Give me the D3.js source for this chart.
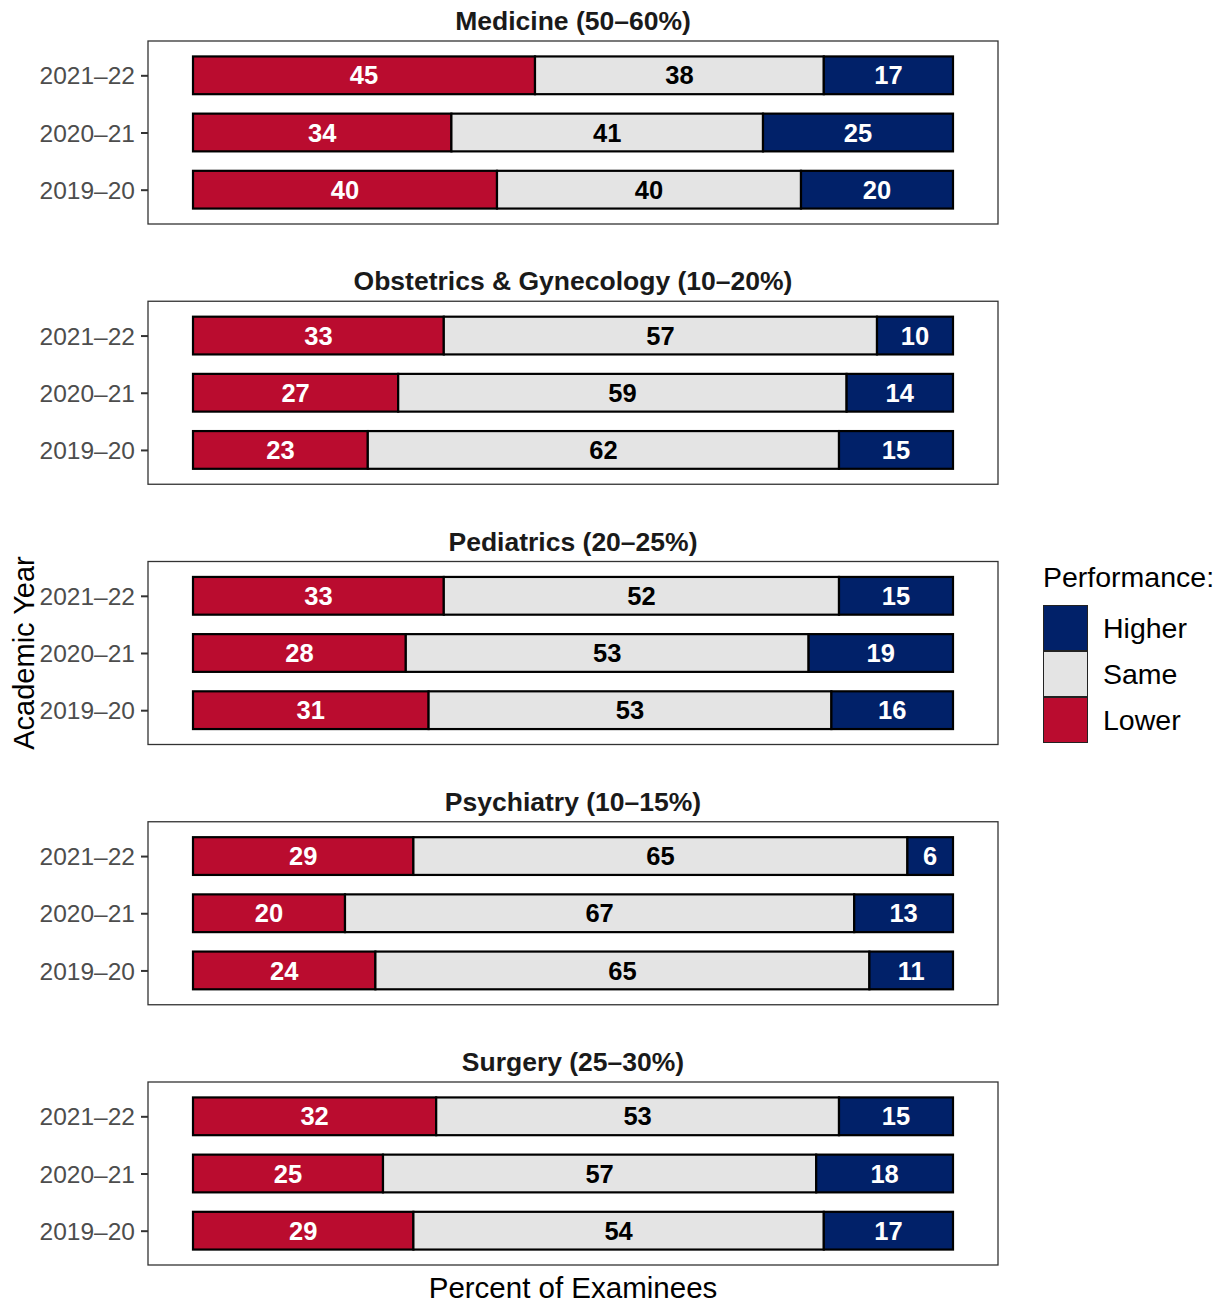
<!DOCTYPE html>
<html>
<head>
<meta charset="utf-8">
<script src="https://cdn.jsdelivr.net/npm/d3@7"></script>
<style>
  html, body { margin: 0; padding: 0; background: #ffffff; }
  svg { display: block; font-family: "Liberation Sans", Arial, sans-serif; }
</style>
</head>
<body>
<svg id="chart" width="1225" height="1304"></svg>
<script>
// ---- data ----
const panels = ["Medicine (50\u201360%)", "Obstetrics & Gynecology (10\u201320%)", "Pediatrics (20\u201325%)", "Psychiatry (10\u201315%)", "Surgery (25\u201330%)"];
const years = ["2021\u201322", "2020\u201321", "2019\u201320"];
const categories = ["Lower", "Same", "Higher"];
// values per panel, per year (same order as years)
const lowerValues = [
  [45, 34, 40],
  [33, 27, 23],
  [33, 28, 31],
  [29, 20, 24],
  [32, 25, 29]
];
const sameValues = [
  [38, 41, 40],
  [57, 59, 62],
  [52, 53, 53],
  [65, 67, 65],
  [53, 57, 54]
];
const higherValues = [
  [17, 25, 20],
  [10, 14, 15],
  [15, 19, 16],
  [6, 13, 11],
  [15, 18, 17]
];
const legendOrder = ["Higher", "Same", "Lower"];

// ---- styles ----
const colors = { Lower: "#BA0C2F", Same: "#E4E4E4", Higher: "#012169" };
const textColors = { Lower: "#ffffff", Same: "#000000", Higher: "#ffffff" };

const svg = d3.select("#chart");

const panelLeft = 148, panelRight = 998;
const panelTop0 = 41, panelStep = 260.25, panelH = 183;

const x = d3.scaleLinear().domain([0, 100]).range([193, 953]);

const valueSets = { Lower: lowerValues, Same: sameValues, Higher: higherValues };

panels.forEach((title, pi) => {
  const top = panelTop0 + pi * panelStep;
  const g = svg.append("g");
  const y = d3.scalePoint().domain(years).range([top, top + panelH]).padding(0.6);
  const barH = y.step() * 0.66;

  // title
  g.append("text")
    .attr("x", (panelLeft + panelRight) / 2)
    .attr("y", top - 11)
    .attr("text-anchor", "middle")
    .attr("font-size", 26.5)
    .attr("font-weight", "bold")
    .attr("fill", "#1a1a1a")
    .text(title);

  // panel background / frame
  g.append("rect")
    .attr("x", panelLeft).attr("y", top)
    .attr("width", panelRight - panelLeft).attr("height", panelH)
    .attr("fill", "#ffffff")
    .attr("stroke", "#333333").attr("stroke-width", 1.3);

  // y axis
  const axis = d3.axisLeft(y).tickSize(7).tickPadding(6);
  const ag = g.append("g").attr("transform", `translate(${panelLeft},0)`).call(axis);
  ag.select(".domain").remove();
  ag.selectAll(".tick line").attr("stroke", "#333333").attr("stroke-width", 2);
  ag.selectAll(".tick text")
    .attr("font-size", 24.5)
    .attr("fill", "#4d4d4d")
    .attr("font-family", "'Liberation Sans', Arial, sans-serif")
    .attr("dy", "0.35em");

  // stacked bars
  years.forEach((yr, yi) => {
    let cum = 0;
    categories.forEach(cat => {
      const v = valueSets[cat][pi][yi];
      const x0 = x(cum), x1 = x(cum + v);
      g.append("rect")
        .attr("x", x0).attr("y", y(yr) - barH / 2)
        .attr("width", x1 - x0).attr("height", barH)
        .attr("fill", colors[cat])
        .attr("stroke", "#000000").attr("stroke-width", 2.2);
      cum += v;
    });
    cum = 0;
    categories.forEach(cat => {
      const v = valueSets[cat][pi][yi];
      const cx = (x(cum) + x(cum + v)) / 2;
      g.append("text")
        .attr("x", cx).attr("y", y(yr))
        .attr("dy", "0.36em")
        .attr("text-anchor", "middle")
        .attr("font-size", 25.5)
        .attr("font-weight", "bold")
        .attr("fill", textColors[cat])
        .text(v);
      cum += v;
    });
  });
});

// axis titles
svg.append("text")
  .attr("x", (panelLeft + panelRight) / 2)
  .attr("y", 1298)
  .attr("text-anchor", "middle")
  .attr("font-size", 29.5)
  .attr("fill", "#000000")
  .text("Percent of Examinees");

svg.append("text")
  .attr("transform", "translate(34,653) rotate(-90)")
  .attr("text-anchor", "middle")
  .attr("font-size", 29)
  .attr("fill", "#000000")
  .text("Academic Year");

// legend
const lg = svg.append("g");
lg.append("text")
  .attr("x", 1043).attr("y", 587)
  .attr("font-size", 28.5)
  .attr("fill", "#000000")
  .text("Performance:");
const keyY = d3.scaleBand().domain(legendOrder).range([605, 743]).padding(0);
legendOrder.forEach(cat => {
  lg.append("rect")
    .attr("x", 1043.5).attr("y", keyY(cat) + 0.5)
    .attr("width", 44).attr("height", keyY.bandwidth() - 1)
    .attr("fill", colors[cat])
    .attr("stroke", "#222222").attr("stroke-width", 1);
  lg.append("text")
    .attr("x", 1103).attr("y", keyY(cat) + keyY.bandwidth() / 2)
    .attr("dy", "0.36em")
    .attr("font-size", 28.5)
    .attr("fill", "#000000")
    .text(cat);
});
</script>
</body>
</html>
